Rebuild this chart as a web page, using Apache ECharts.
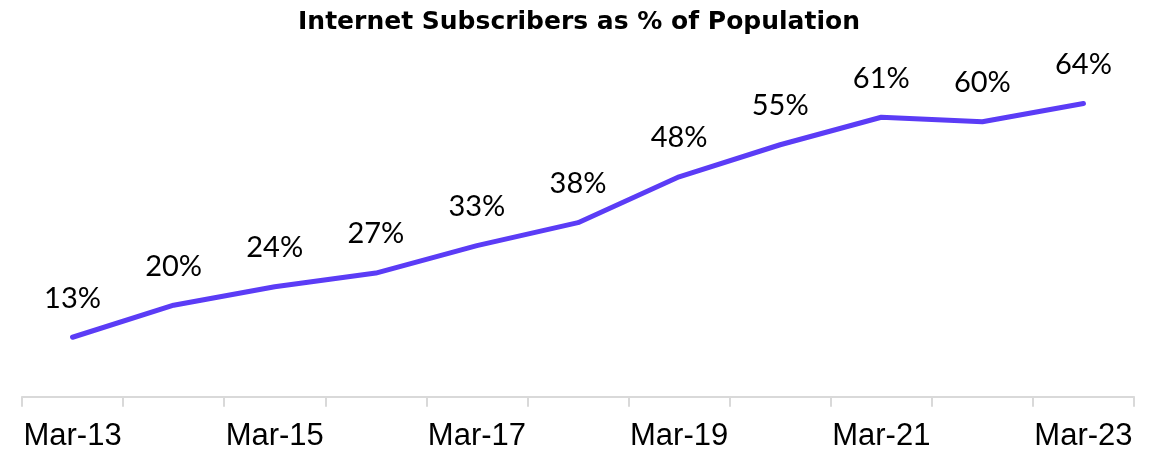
<!DOCTYPE html>
<html>
<head>
<meta charset="utf-8">
<script src="https://cdn.jsdelivr.net/npm/echarts@6/dist/echarts.min.js"></script>
<style>
  html, body { margin: 0; padding: 0; background: #fff; }
  #chart { width: 1158px; height: 451px; }
</style>
</head>
<body>
<div id="chart"></div>
<script>
const categories = ['Mar-13', 'Mar-14', 'Mar-15', 'Mar-16', 'Mar-17', 'Mar-18', 'Mar-19', 'Mar-20', 'Mar-21', 'Mar-22', 'Mar-23'];
const subscribersPct = [13, 20, 24, 27, 33, 38, 48, 55, 61, 60, 64];

const chart = echarts.init(document.getElementById('chart'));
chart.setOption({
  animation: false,
  title: {
    text: 'Internet Subscribers as % of Population',
    left: 'center',
    top: 5,
    textStyle: { fontFamily: 'DejaVu Sans', fontWeight: 'bold', fontSize: 25, color: '#000' }
  },
  grid: { left: 22, right: 24, top: 76, bottom: 45, containLabel: false, outerBoundsMode: 'none' },
  xAxis: {
    type: 'category',
    data: categories,
    boundaryGap: true,
    axisLine: { show: true, lineStyle: { color: '#d9d9d9', width: 2 } },
    axisTick: { show: true, interval: 0, length: 10, lineStyle: { color: '#d9d9d9', width: 2 } },
    axisLabel: { interval: 1, margin: 15, fontFamily: 'Liberation Sans', fontSize: 31, color: '#000' }
  },
  yAxis: {
    type: 'value',
    min: -2,
    max: 70,
    show: false,
    splitLine: { show: false }
  },
  series: [{
    type: 'line',
    data: subscribersPct,
    symbol: 'circle',
    symbolSize: 1,
    showSymbol: true,
    itemStyle: { opacity: 0 },
    lineStyle: { color: '#5b3cf6', width: 5, cap: 'round', join: 'round' },
    label: {
      show: true,
      position: 'top',
      distance: 24,
      formatter: p => p.value + '%',
      fontFamily: 'Lato',
      fontSize: 29,
      color: '#000',
      opacity: 1
    }
  }]
});
</script>
</body>
</html>
